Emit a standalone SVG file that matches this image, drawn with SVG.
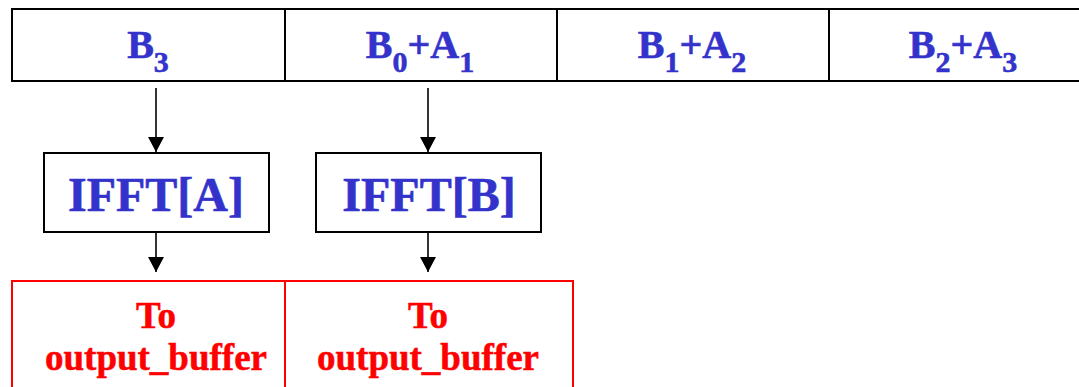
<svg xmlns="http://www.w3.org/2000/svg" width="1079" height="387" viewBox="0 0 1079 387">
  <style>
    .cell { fill: #ffffff; stroke: #000000; stroke-width: 2; }
    .out { fill: #ffffff; stroke: #ff0000; stroke-width: 2; }
    .lbl { font-family: "Liberation Serif", "Times New Roman", serif; font-weight: bold; fill: #3333cc; stroke: #3333cc; stroke-width: 0.6; text-anchor: middle; }
    .top { font-size: 40px; }
    .sub { font-size: 30px; }
    .fft { font-size: 48px; }
    .red { font-family: "Liberation Serif", "Times New Roman", serif; font-weight: bold; fill: #ff0000; stroke: #ff0000; stroke-width: 0.5; font-size: 37px; text-anchor: middle; }
    .wire { stroke: #000000; stroke-width: 1.6; fill: none; marker-end: url(#head); }
  </style>
  <defs>
    <marker id="head" markerWidth="15" markerHeight="16" viewBox="0 0 15 16" refX="15" refY="8" orient="auto" markerUnits="userSpaceOnUse">
      <path d="M0,0 L15,8 L0,16 Z" fill="#000000"/>
    </marker>
  </defs>

  <rect width="1079" height="387" fill="#ffffff"/>

  <!-- input frame: four cells -->
  <g id="cell-b3">
    <rect class="cell" x="12" y="9" width="273" height="72"/>
    <text class="lbl top" x="148" y="58">B<tspan class="sub" dy="14">3</tspan></text>
  </g>
  <g id="cell-b0a1">
    <rect class="cell" x="285" y="9" width="272" height="72"/>
    <text class="lbl top" x="420" y="58">B<tspan class="sub" dy="14">0</tspan><tspan dy="-14">+A</tspan><tspan class="sub" dy="14">1</tspan></text>
  </g>
  <g id="cell-b1a2">
    <rect class="cell" x="557" y="9" width="272" height="72"/>
    <text class="lbl top" x="692" y="58">B<tspan class="sub" dy="14">1</tspan><tspan dy="-14">+A</tspan><tspan class="sub" dy="14">2</tspan></text>
  </g>
  <g id="cell-b2a3">
    <rect class="cell" x="829" y="9" width="260" height="72"/>
    <text class="lbl top" x="963" y="58">B<tspan class="sub" dy="14">2</tspan><tspan dy="-14">+A</tspan><tspan class="sub" dy="14">3</tspan></text>
  </g>

  <!-- transform blocks -->
  <g id="ifft-a">
    <rect class="cell" x="44" y="153" width="225" height="79"/>
    <text class="lbl fft" x="156" y="211">IFFT[A]</text>
  </g>
  <g id="ifft-b">
    <rect class="cell" x="316" y="153" width="225" height="79"/>
    <text class="lbl fft" x="429" y="211">IFFT[B]</text>
  </g>

  <!-- output destinations -->
  <g id="out-a">
    <rect class="out" x="12" y="281" width="273" height="120"/>
    <text class="red" x="156" y="328">To</text>
    <text class="red" x="156" y="370">output_buffer</text>
  </g>
  <g id="out-b">
    <rect class="out" x="285" y="281" width="288" height="120"/>
    <text class="red" x="428" y="328">To</text>
    <text class="red" x="428" y="370">output_buffer</text>
  </g>

  <!-- connectors -->
  <g id="connectors">
    <line class="wire" x1="156" y1="88" x2="156" y2="152"/>
    <line class="wire" x1="428" y1="88" x2="428" y2="152"/>
    <line class="wire" x1="156" y1="232" x2="156" y2="272"/>
    <line class="wire" x1="428" y1="232" x2="428" y2="272"/>
  </g>
</svg>
